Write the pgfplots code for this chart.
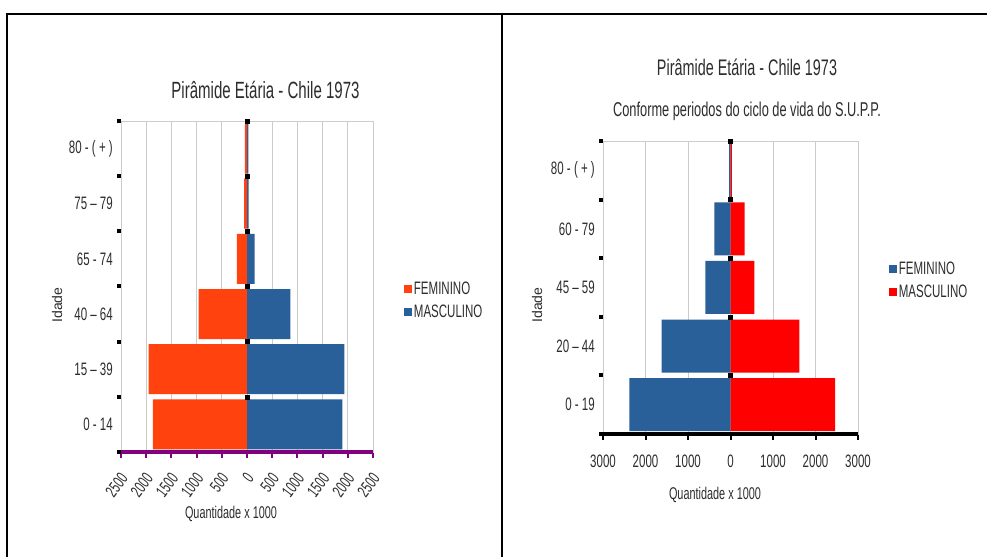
\documentclass[border=0pt]{standalone}
\usepackage{fontspec}
\setmainfont{Liberation Sans}[FakeStretch=0.64]
\newfontfamily\plainsans{Liberation Sans}
\usepackage{pgfplots}
\pgfplotsset{compat=1.18}
\definecolor{fem}{RGB}{255,66,14}
\definecolor{masc}{RGB}{42,96,153}
\definecolor{mred}{RGB}{255,0,0}
\definecolor{axpurple}{RGB}{128,0,128}
\definecolor{gridc}{RGB}{204,204,204}
\definecolor{txt}{RGB}{45,45,45}
\newcommand{\fs}[1]{\fontsize{#1bp}{#1bp}\selectfont}
\pgfplotsset{
  pyr/.style={
    scale only axis, anchor=south west, clip=false,
    /pgf/number format/assume math mode=true,
    axis line style={gridc, line width=0.8bp},
    xtick pos=bottom, ytick pos=left, tick align=outside,
    major tick length=6bp, minor tick length=4bp,
    major y tick style={draw=none},
    minor y tick style={black, line width=4bp},
    xmajorgrids, major grid style={gridc, line width=0.8bp},
    ticklabel style={text=txt},
    yticklabel style={font=\fs{18}, inner sep=0pt, xshift=-2bp},
    legend style={draw=none, fill=none, font=\fs{18}, text=txt, row sep=5bp, inner sep=0pt, cells={anchor=west}},
    legend cell align=left,
    legend image code/.code={\fill[##1] (0bp,-4bp) rectangle (8bp,4bp);},
  }
}
\begin{document}
\begin{tikzpicture}[x=1bp,y=1bp]
\useasboundingbox (0,0) rectangle (987,557);
\fill[white] (0,0) rectangle (987,557);
\draw[black, line width=2.2bp] (7,-3) -- (7,543) -- (990,543);
\draw[black, line width=2.2bp] (502,-3) -- (502,543);

% ---------------- left chart ----------------
\begin{axis}[pyr,
  at={(121bp,105bp)}, width=252bp, height=331bp,
  xmin=-2500, xmax=2500, ymin=-0.5, ymax=5.5,
  xtick={-2500,-2000,...,2500},
  xticklabels={2500,2000,1500,1000,500,0,500,1000,1500,2000,2500},
  major x tick style={axpurple, line width=2bp},
  xticklabel style={font=\fs{17}, inner sep=0pt, xshift=3bp, yshift=-17bp, rotate=53, anchor=east},
  ytick={0,...,5},
  minor ytick={-0.5,0.5,...,5.5},
  yticklabels={0 - 14, 15 – 39, 40 – 64, 65 -  74, 75 – 79, 80 - ( + )},
  legend style={at={(1.122,0.458)}, anchor=west},
]
\addplot[xbar, bar shift=0pt, bar width=50bp, fill=fem, draw=none]
  coordinates {(-1870,0) (-1950,1) (-960,2) (-200,3) (-55,4) (-40,5)};
\addlegendentry{FEMININO}
\addplot[xbar, bar shift=0pt, bar width=50bp, fill=masc, draw=none]
  coordinates {(1890,0) (1930,1) (860,2) (150,3) (30,4) (25,5)};
\addlegendentry{MASCULINO}
\draw[axpurple, line width=3.5bp] (rel axis cs:0,0) -- (rel axis cs:1,0);
\addplot[only marks, mark=square*, mark size=2bp, black, forget plot]
  coordinates {(0,0.5) (0,1.5) (0,2.5) (0,3.5) (0,4.5) (0,5.5)};
\end{axis}
\node[font=\fs{23.5}, text=txt, anchor=base] at (265.5,458) {Pirâmide Etária - Chile 1973};
\node[font=\fs{17}, text=txt, anchor=base] at (231,38) {Quantidade x 1000};
\node[font=\plainsans\fs{14}, text=txt, rotate=90] at (57,252) {Idade};

% ---------------- right chart ----------------
\begin{axis}[pyr,
  at={(603bp,123bp)}, width=255bp, height=293bp,
  xmin=-3000, xmax=3000, ymin=-0.5, ymax=4.5,
  xtick={-3000,-2000,...,3000},
  xticklabels={3000,2000,1000,0,1000,2000,3000},
  major x tick style={black, line width=2bp},
  xticklabel style={font=\fs{18}, inner sep=0pt, yshift=-15bp},
  ytick={0,...,4},
  minor ytick={-0.5,0.5,...,4.5},
  yticklabels={0 - 19, 20 – 44, 45 – 59, 60 -  79, 80 - ( + )},
  legend style={at={(1.12,0.524)}, anchor=west},
]
\addplot[xbar, bar shift=0pt, bar width=53bp, fill=masc, draw=none]
  coordinates {(-2380,0) (-1620,1) (-590,2) (-380,3) (-35,4)};
\addlegendentry{FEMININO}
\addplot[xbar, bar shift=0pt, bar width=53bp, fill=mred, draw=none]
  coordinates {(2460,0) (1620,1) (560,2) (330,3) (30,4)};
\addlegendentry{MASCULINO}
\draw[black, line width=3.5bp] (rel axis cs:0,0) -- (rel axis cs:1,0);
\addplot[only marks, mark=square*, mark size=2bp, black, forget plot]
  coordinates {(0,0.5) (0,1.5) (0,2.5) (0,3.5) (0,4.5)};
\end{axis}
\node[font=\fs{22.5}, text=txt, anchor=base] at (747,481) {Pirâmide Etária - Chile 1973};
\node[font=\fs{20}, text=txt, anchor=base] at (747,440) {Conforme periodos do ciclo de vida do S.U.P.P.};
\node[font=\fs{17}, text=txt, anchor=base] at (715,57) {Quantidade x 1000};
\node[font=\plainsans\fs{14}, text=txt, rotate=90] at (537,252) {Idade};
\end{tikzpicture}
\end{document}
